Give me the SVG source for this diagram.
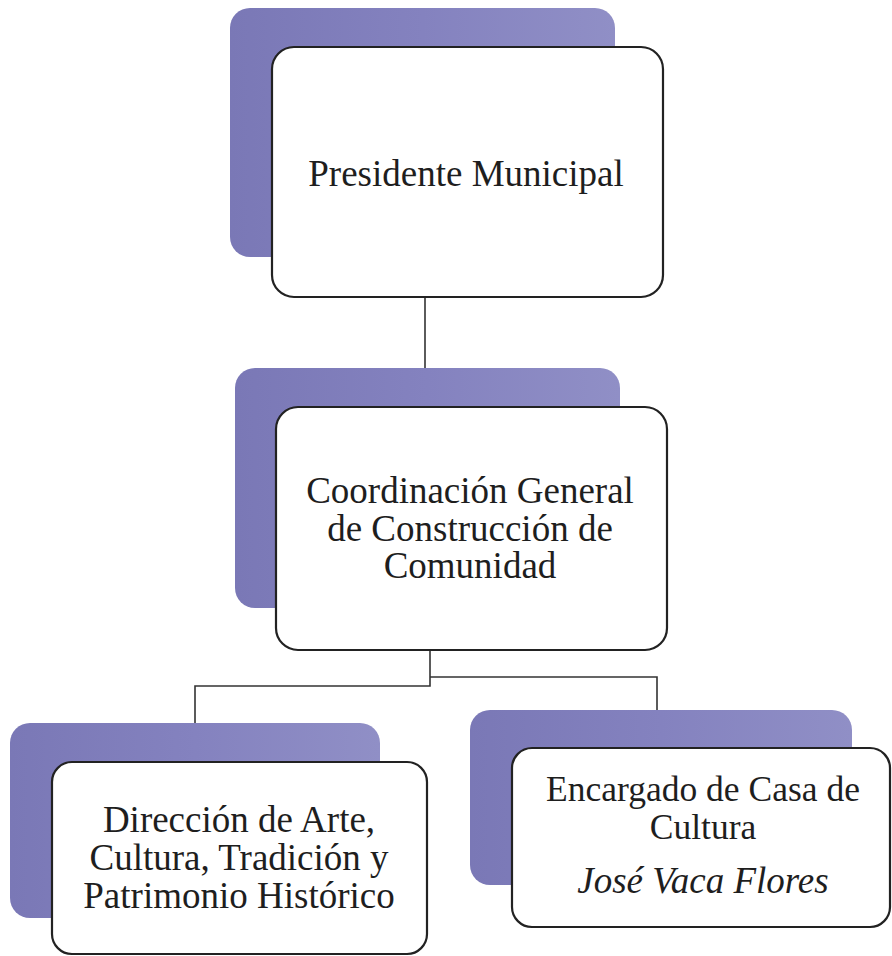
<svg xmlns="http://www.w3.org/2000/svg" width="892" height="956" viewBox="0 0 892 956">
  <defs>
    <linearGradient id="shade" x1="0" y1="0" x2="1" y2="0">
      <stop offset="0" stop-color="#7a78b6"/>
      <stop offset="0.5" stop-color="#8482bf"/>
      <stop offset="1" stop-color="#908fc6"/>
    </linearGradient>
  </defs>
  <style>
    .back { fill: url(#shade); }
    .front { fill: #ffffff; stroke: #222222; stroke-width: 2.2; }
    .lbl { font-family: "Liberation Serif", "Times New Roman", serif; font-size: 37px; fill: #1e1e1e; text-anchor: middle; }
    .sm { font-size: 35.5px; }
    .it { font-style: italic; }
    .conn { fill: none; stroke: #333333; stroke-width: 1.6; }
  </style>
  <rect width="892" height="956" fill="#ffffff"/>

  <g id="connectors">
    <line class="conn" x1="425" y1="297" x2="425" y2="368"/>
    <polyline class="conn" points="430,650 430,686 195,686 195,723"/>
    <polyline class="conn" points="430,677 657,677 657,710"/>
  </g>

  <g id="node-presidente">
    <rect class="back" x="230" y="8" width="385" height="249" rx="20"/>
    <rect class="front" x="272" y="47" width="391" height="250" rx="22"/>
    <text class="lbl" x="466" y="186">Presidente Municipal</text>
  </g>

  <g id="node-coordinacion">
    <rect class="back" x="235" y="368" width="385" height="240" rx="20"/>
    <rect class="front" x="276" y="407" width="391" height="243" rx="22"/>
    <text class="lbl" x="470" y="503">Coordinación General</text>
    <text class="lbl" x="470" y="541">de Construcción de</text>
    <text class="lbl" x="470" y="578">Comunidad</text>
  </g>

  <g id="node-direccion">
    <rect class="back" x="10" y="723" width="370" height="195" rx="20"/>
    <rect class="front" x="52" y="762" width="375" height="192" rx="20"/>
    <text class="lbl" x="239" y="832">Dirección de Arte,</text>
    <text class="lbl" x="239" y="870">Cultura, Tradición y</text>
    <text class="lbl" x="239" y="908">Patrimonio Histórico</text>
  </g>

  <g id="node-casa-cultura">
    <rect class="back" x="470" y="710" width="382" height="175" rx="20"/>
    <rect class="front" x="512" y="748" width="378" height="179" rx="20"/>
    <text class="lbl sm" x="703" y="801">Encargado de Casa de</text>
    <text class="lbl sm" x="703" y="839">Cultura</text>
    <text class="lbl it" x="703" y="893">José Vaca Flores</text>
  </g>
</svg>
